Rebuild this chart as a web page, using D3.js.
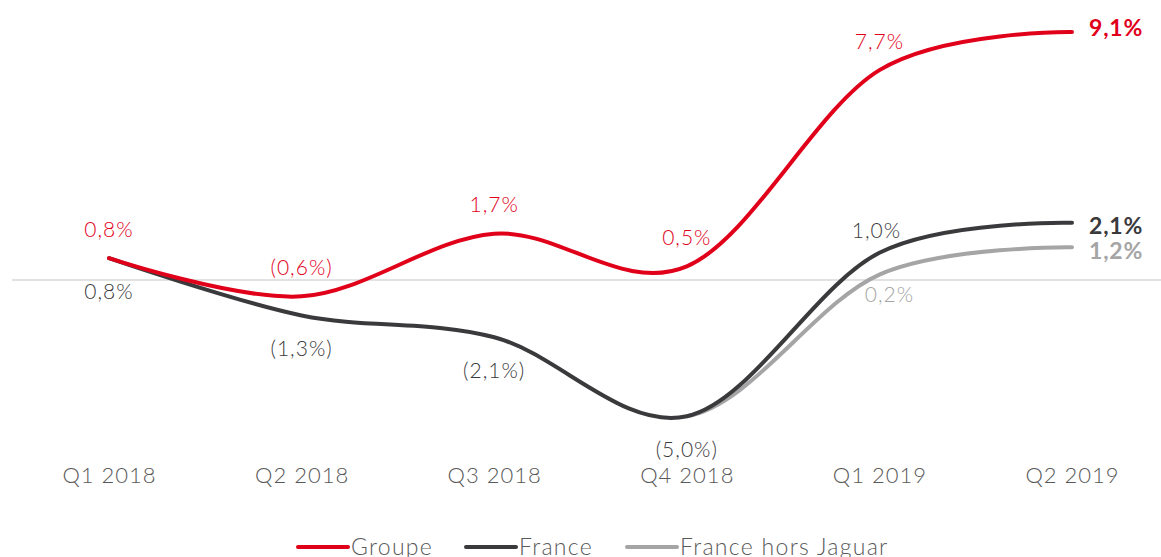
<!DOCTYPE html>
<html>
<head>
<meta charset="utf-8">
<script src="https://cdn.jsdelivr.net/npm/d3@7"></script>
<style>
  body { margin: 0; background: #fff; }
  svg { display: block; font-family: "Lato", "Open Sans", sans-serif; }
</style>
</head>
<body>
<div id="chart"></div>
<script>
// categories and series
var quarters = ["Q1 2018", "Q2 2018", "Q3 2018", "Q4 2018", "Q1 2019", "Q2 2019"];
var groupe = [0.8, -0.6, 1.7, 0.5, 7.7, 9.1];
var france = [0.8, -1.3, -2.1, -5.0, 1.0, 2.1];
// same as France before Q1 2019; only shown from Q4 2018 on
var franceHorsJaguar = [0.8, -1.3, -2.1, -5.0, 0.2, 1.2];
var seriesNames = ["Groupe", "France", "France hors Jaguar"];

// where each label goes: "a" above, "b" below, "r" right (last, bold), "" none
var groupeLabelPos = ["a", "a", "a", "a", "a", "r"];
var franceLabelPos = ["b", "b", "b", "b", "a", "r"];
var fhjLabelPos = ["", "", "", "", "b", "r"];

var colors = ["#e1001a", "#3a3a3c", "#a5a5a5"];

var width = 1161, height = 557;

var svg = d3.select("#chart")
    .append("svg")
    .attr("width", width)
    .attr("height", height);

var x = d3.scalePoint()
    .domain(quarters)
    .range([109, 1072]);

var y = d3.scaleLinear()
    .domain([0, 9.1])
    .range([280, 32]);

// the light grey line starts at Q4 2018
svg.append("clipPath")
    .attr("id", "fromQ4")
    .append("rect")
    .attr("x", x("Q4 2018"))
    .attr("y", 0)
    .attr("width", width)
    .attr("height", height);

// zero line
svg.append("line")
    .attr("x1", 12).attr("x2", width)
    .attr("y1", y(0)).attr("y2", y(0))
    .attr("stroke", "#d9d9d9")
    .attr("stroke-width", 1.5);

// x axis labels
var xAxis = svg.append("g")
    .attr("transform", "translate(0,475)")
    .call(d3.axisBottom(x).tickSize(0).tickPadding(0));
xAxis.select(".domain").remove();
xAxis.selectAll("text")
    .attr("dy", "0.35em")
    .attr("font-size", 22)
    .attr("letter-spacing", 1)
    .attr("font-family", "Lato, sans-serif")
    .attr("font-weight", 300)
    .attr("fill", "#595959");

function fmt(v) {
    var s = Math.abs(v).toFixed(1).replace(".", ",") + "%";
    return v < 0 ? "(" + s + ")" : s;
}

var series = [
    { name: "France hors Jaguar", values: franceHorsJaguar, color: colors[2], pos: fhjLabelPos, clip: true },
    { name: "France", values: france, color: colors[1], pos: franceLabelPos },
    { name: "Groupe", values: groupe, color: colors[0], pos: groupeLabelPos }
];

var line = d3.line()
    .x(function (d, i) { return x(quarters[i]); })
    .y(function (d) { return y(d); })
    .curve(d3.curveCardinal.tension(0));

series.forEach(function (s) {
    var p = svg.append("path")
        .datum(s.values)
        .attr("fill", "none")
        .attr("stroke", s.color)
        .attr("stroke-width", 4)
        .attr("stroke-linecap", "round")
        .attr("d", line);
    if (s.clip) p.attr("clip-path", "url(#fromQ4)");
});

// value labels
var labelOffsets = {
    "Groupe": { a: -29, b: 30 },
    "France": { a: -22, b: 33 },
    "France hors Jaguar": { a: -22, b: 20 }
};
series.forEach(function (s) {
    s.values.forEach(function (v, i) {
        var p = s.pos[i];
        if (v == null || p === "") return;
        var t = svg.append("text")
            .attr("fill", s.color)
            .attr("dy", "0.35em")
            .text(fmt(v));
        if (p === "r") {
            t.attr("x", x(quarters[i]) + 17)
                .attr("y", y(v) + (s.name === "France hors Jaguar" ? 4 : (s.name === "France" ? 3 : -4)))
                .attr("font-size", 23)
                .attr("letter-spacing", 0.8)
                .attr("font-weight", 700);
        } else {
            var dx = 0;
            if (s.name === "France" && i === 4) dx = -3;
            if (s.name === "France hors Jaguar" && i === 4) dx = 10;
            t.attr("x", x(quarters[i]) + dx)
                .attr("y", y(v) + labelOffsets[s.name][p])
                .attr("text-anchor", "middle")
                .attr("font-size", 21)
                .attr("letter-spacing", 1)
                .attr("font-weight", 300);
        }
    });
});

// legend
var legendX = [298, 466, 627];
var legend = svg.append("g").attr("transform", "translate(0,547)");
seriesNames.forEach(function (n, i) {
    legend.append("line")
        .attr("x1", legendX[i]).attr("x2", legendX[i] + 50)
        .attr("y1", 0).attr("y2", 0)
        .attr("stroke", colors[i])
        .attr("stroke-width", 4)
        .attr("stroke-linecap", "round");
    legend.append("text")
        .attr("x", legendX[i] + 53)
        .attr("y", 0)
        .attr("dy", "0.35em")
        .attr("font-size", 23)
        .attr("letter-spacing", 1.3)
        .attr("font-weight", 300)
        .attr("fill", "#595959")
        .text(n);
});
</script>
</body>
</html>
